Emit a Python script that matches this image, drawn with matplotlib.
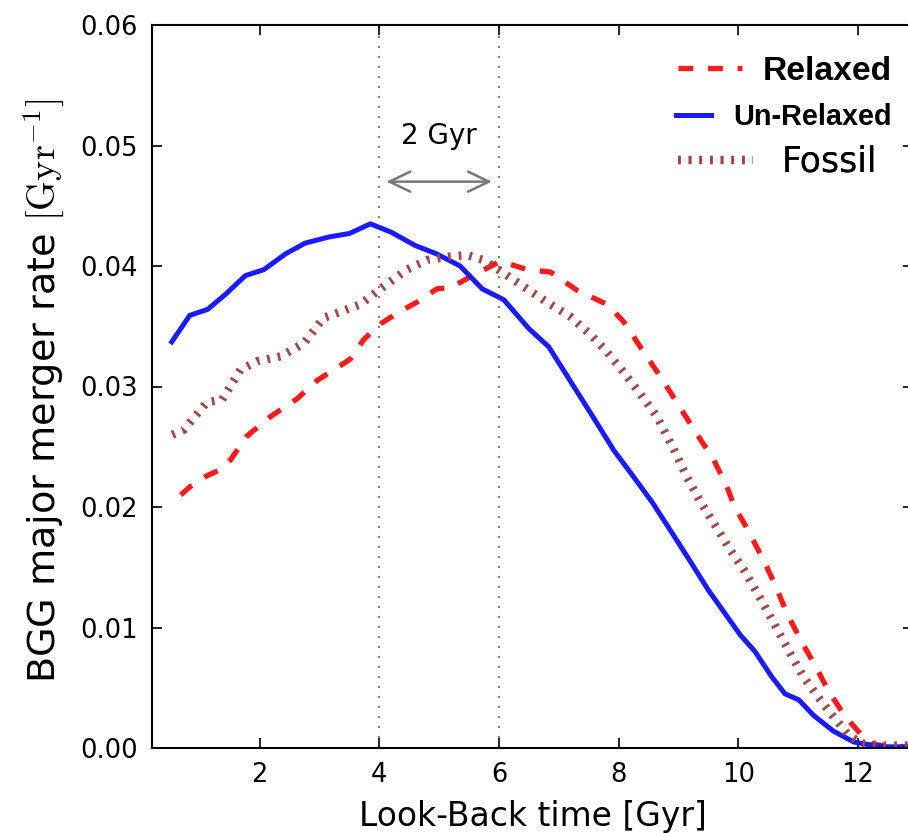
import numpy as np
import matplotlib
matplotlib.use("Agg")
import matplotlib.pyplot as plt
from matplotlib.lines import Line2D

# ---------------- data ----------------
t_unrelaxed = [0.53, 0.83, 1.13, 1.44, 1.76, 2.07, 2.43, 2.76, 3.15, 3.50, 3.85, 4.20,
               4.60, 4.96, 5.35, 5.72, 6.08, 6.50, 6.83, 7.53, 7.92, 8.22, 8.56, 8.86,
               9.17, 9.50, 10.03, 10.28, 10.56, 10.78, 11.01, 11.26, 11.59, 11.93, 12.15,
               12.50, 12.92]
y_unrelaxed = [0.0337, 0.0359, 0.0364, 0.0377, 0.0392, 0.0397, 0.0410, 0.0419, 0.0424,
               0.0427, 0.0435, 0.0428, 0.0417, 0.0410, 0.0400, 0.0381, 0.0372, 0.0348,
               0.0333, 0.0278, 0.0247, 0.0227, 0.0204, 0.0181, 0.0157, 0.0131, 0.0094,
               0.0080, 0.0059, 0.0045, 0.0040, 0.0027, 0.0014, 0.0005, 0.0003, 0.0001,
               0.0001]

t_relaxed = [0.68, 0.84, 1.12, 1.30, 1.51, 1.79, 2.18, 2.63, 2.96, 3.40, 3.52, 3.74,
             4.02, 4.30, 4.63, 4.96, 5.19, 5.52, 5.91, 6.02, 6.47, 6.86, 7.30, 7.81,
             8.08, 8.36, 8.70, 8.97, 9.25, 9.59, 9.81, 9.92, 10.17, 10.42, 10.62, 10.81,
             11.06, 11.29, 11.51, 11.79, 12.09, 12.26, 12.60, 12.92]
y_relaxed = [0.0210, 0.0217, 0.0226, 0.0230, 0.0239, 0.0259, 0.0275, 0.0290, 0.0305,
             0.0319, 0.0323, 0.0339, 0.0352, 0.0361, 0.0370, 0.0381, 0.0382, 0.0391,
             0.0401, 0.0404, 0.0397, 0.0395, 0.0380, 0.0368, 0.0354, 0.0333, 0.0308,
             0.0287, 0.0265, 0.0239, 0.0217, 0.0202, 0.0180, 0.0156, 0.0135, 0.0112,
             0.0088, 0.0068, 0.0047, 0.0026, 0.0009, 0.0003, 0.0001, 0.0001]

t_fossil = [0.54, 0.73, 1.12, 1.37, 1.68, 1.96, 2.35, 2.74, 3.07, 3.35, 3.68, 4.07,
            4.46, 4.80, 5.19, 5.47, 5.74, 6.08, 6.41, 6.80, 7.19, 7.53, 7.80, 8.08,
            8.36, 8.64, 8.90, 9.14, 9.36, 9.61, 9.87, 10.09, 10.37, 10.59, 10.84, 11.09,
            11.37, 11.59, 11.82, 12.04, 12.40, 12.92]
y_fossil = [0.0260, 0.0264, 0.0287, 0.0289, 0.0314, 0.0321, 0.0325, 0.0336, 0.0357,
            0.0362, 0.0368, 0.0383, 0.0397, 0.0405, 0.0408, 0.0409, 0.0405, 0.0394,
            0.0383, 0.0370, 0.0358, 0.0343, 0.0329, 0.0312, 0.0294, 0.0275, 0.0250,
            0.0225, 0.0205, 0.0185, 0.0164, 0.0148, 0.0124, 0.0104, 0.0081, 0.0059,
            0.0040, 0.0026, 0.0012, 0.0004, 0.0002, 0.0002]

x_ticks = [2, 4, 6, 8, 10, 12]
y_ticks = [0.00, 0.01, 0.02, 0.03, 0.04, 0.05, 0.06]
marker_lines = [4, 6]
arrow_span = (4.12, 5.88)
arrow_y = 0.0470
arrow_label = "2 Gyr"

# ---------------- style ----------------
plt.rcParams['font.family'] = ['DejaVu Sans']
plt.rcParams['mathtext.fontset'] = 'cm'

W, H = 908, 833
fig = plt.figure(figsize=(W / 100, H / 100), dpi=100)
L, R, B, T = 152, 913, 748, 25
ax = fig.add_axes([L / W, (H - B) / H, (R - L) / W, (B - T) / H])

red = (1.0, 0.1, 0.1)
blue = (0.1, 0.1, 1.0)
brown = '#a54545'
fossil_dash = (0.33, 0.95)

ax.plot(t_relaxed, y_relaxed, color=red, lw=3.8, dashes=(2.8, 2.8),
        dash_capstyle='butt')
ax.plot(t_unrelaxed, y_unrelaxed, color=blue, lw=3.6)
ax.plot(t_fossil, y_fossil, color=brown, lw=6.0, dashes=fossil_dash,
        dash_capstyle='butt')

for xv in marker_lines:
    ax.axvline(xv, color='#808080', lw=1.5, dashes=(1, 3.8), zorder=0)

ax.annotate('', xy=(arrow_span[1], arrow_y), xytext=(arrow_span[0], arrow_y),
            arrowprops=dict(arrowstyle='<->,head_length=0.75,head_width=0.36',
                            color='#777777', lw=1.8, shrinkA=0, shrinkB=0,
                            mutation_scale=20))
ax.text(np.mean(arrow_span), 0.0508, arrow_label, ha='center', va='center',
        fontsize=20)

ax.set_xlim(0.2, 12.92)
ax.set_ylim(0, 0.06)
ax.set_xticks(x_ticks)
ax.set_yticks(y_ticks)
ax.set_yticklabels([f"{v:.2f}" for v in y_ticks])
ax.tick_params(direction='in', length=7, width=1.2, labelsize=18.5, pad=10,
               top=True, right=True)
for s in ax.spines.values():
    s.set_linewidth(1.5)

ax.set_xlabel('Look-Back time [Gyr]', fontsize=23.7, labelpad=9)
ax.set_ylabel(r'BGG major merger rate $[\mathrm{Gyr}^{-1}]$', fontsize=27.5)
ax.yaxis.set_label_coords(-0.112, 0.494)

# ---------------- legends (three single rows) ----------------
def row(handle, label, prop, x0, yc, hlen_px, gap_px):
    fs_px = prop['size'] / 0.72
    leg = ax.legend([handle], [label], loc='center left',
                    bbox_to_anchor=(x0 / W, (H - yc) / H),
                    bbox_transform=fig.transFigure, frameon=False,
                    borderpad=0, borderaxespad=0,
                    handlelength=hlen_px / fs_px, handletextpad=gap_px / fs_px,
                    prop=prop)
    ax.add_artist(leg)
    return leg

h_rel = Line2D([], [], color=red, lw=3.8, dashes=(2.8, 2.8), dash_capstyle='butt')
h_un = Line2D([], [], color=blue, lw=3.6)
h_fos = Line2D([], [], color=brown, lw=6.0, dashes=fossil_dash, dash_capstyle='butt')
row(h_rel, 'Relaxed', dict(family='Liberation Sans', weight='bold', size=24.2),
    678, 71.7, 64, 21)
row(h_un, 'Un-Relaxed', dict(family='Liberation Sans', weight='bold', size=20.8),
    676, 116.7, 35, 22)
row(h_fos, 'Fossil', dict(family='DejaVu Sans', size=25),
    678, 161.7, 75, 29)

fig.savefig('out.png', dpi=100)
